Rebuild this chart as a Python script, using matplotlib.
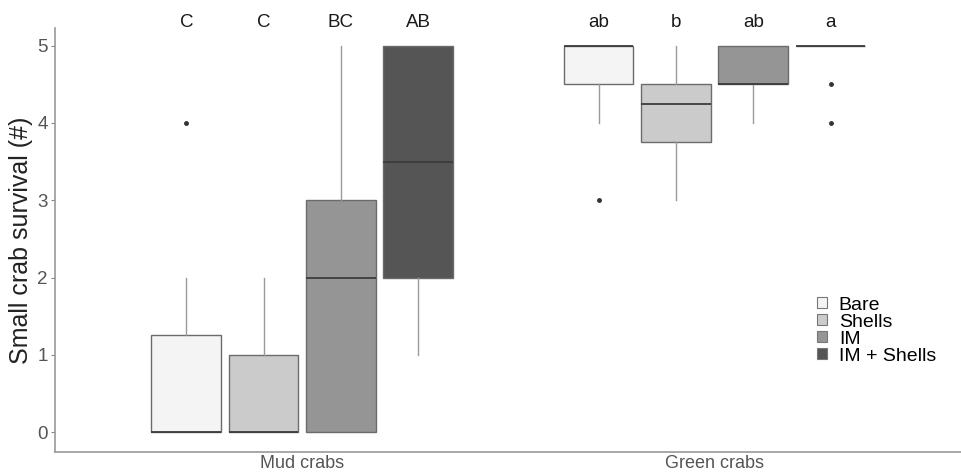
import matplotlib.pyplot as plt
from matplotlib.patches import Patch

plt.rcParams['font.family'] = ['Liberation Sans', 'DejaVu Sans']

# ---- data ----
groups = ['Mud crabs', 'Green crabs']
treatments = ['Bare', 'Shells', 'IM', 'IM + Shells']
fills = ['#f4f4f4', '#cbcbcb', '#959595', '#555555']

# per box: q1, median, q3, lower whisker, upper whisker
q1 = [[0, 0, 0, 2], [4.5, 3.75, 4.5, 5]]
med = [[0, 0, 2, 3.5], [5, 4.25, 4.5, 5]]
q3 = [[1.25, 1, 3, 5], [5, 4.5, 5, 5]]
wlo = [[0, 0, 0, 1], [4, 3, 4, 5]]
whi = [[2, 2, 5, 5], [5, 5, 5, 5]]
outliers = [[[4], [], [], []], [[3], [], [], [4.5, 4]]]
letters = [['C', 'C', 'BC', 'AB'], ['ab', 'b', 'ab', 'a']]

fig = plt.figure(figsize=(9.62, 4.73), dpi=100)
ax = fig.add_axes([0.057, 0.044, 0.943, 0.897])

dodge = 0.1875
bw = 0.169
for g in range(len(groups)):
    for t in range(len(treatments)):
        pos = g + 1 + (t - 1.5) * dodge
        st = dict(q1=q1[g][t], med=med[g][t], q3=q3[g][t],
                  whislo=wlo[g][t], whishi=whi[g][t], fliers=outliers[g][t])
        ax.bxp([st], positions=[pos], widths=bw, patch_artist=True,
               showcaps=False,
               boxprops=dict(facecolor=fills[t], edgecolor='#6b6b6b', linewidth=1),
               medianprops=dict(color='#3c3c3c', linewidth=1.3),
               whiskerprops=dict(color='#9a9a9a', linewidth=1),
               flierprops=dict(marker='o', markersize=2.5, markerfacecolor='#333333',
                               markeredgecolor='#333333'))
        ax.text(pos, 5.3, letters[g][t], ha='center', va='center', fontsize=13.5,
                color='#1a1a1a', clip_on=False)

ax.set_xlim(0.4, 2.6)
ax.set_ylim(-0.26, 5.23)
ax.set_xticks([1, 2])
ax.set_xticklabels(groups, fontsize=13, color='#555555')
ax.set_yticks([0, 1, 2, 3, 4, 5])
ax.set_yticklabels(['0', '1', '2', '3', '4', '5'], fontsize=13.5, color='#555555')
ax.tick_params(axis='x', length=0, pad=2)
ax.tick_params(axis='y', length=3, color='#888888', pad=2)
ax.set_ylabel('Small crab survival (#)', fontsize=18, color='#222222', labelpad=3)

for s in ['top', 'right']:
    ax.spines[s].set_visible(False)
for s in ['left', 'bottom']:
    ax.spines[s].set_color('#9a9a9a')
    ax.spines[s].set_linewidth(1.2)

handles = [Patch(facecolor=c, edgecolor='#777777', linewidth=0.8) for c in fills]
ax.legend(handles, treatments, loc='upper left', bbox_to_anchor=(0.832, 0.385),
          frameon=False, fontsize=14, handlelength=0.5, handleheight=0.5,
          handletextpad=0.6, labelspacing=0.0, borderaxespad=0)

fig.savefig('out.png', dpi=100)
